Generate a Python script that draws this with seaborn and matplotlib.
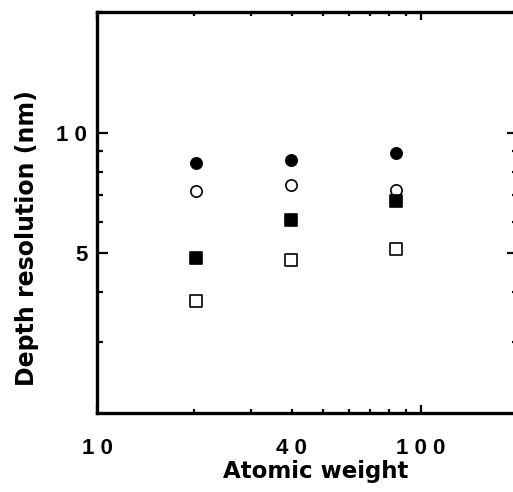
import matplotlib
matplotlib.use("Agg")
import matplotlib.pyplot as plt
import seaborn as sns

# data (log-log axes)
atomic_weight = [20.2, 39.9, 83.8]
filled_circle = [8.40, 8.53, 8.90]
open_circle = [7.14, 7.42, 7.21]
filled_square = [4.86, 6.05, 6.77]
open_square = [3.80, 4.81, 5.12]

x_ticks = [10, 40, 100]
x_ticklabels = ["1 0", "4 0", "1 0 0"]
y_ticks = [5, 10]
y_ticklabels = ["5", "1 0"]

sns.set_style("ticks")
plt.rcParams["font.family"] = ["Liberation Sans", "DejaVu Sans"]
plt.rcParams["text.color"] = "black"
plt.rcParams["axes.labelcolor"] = "black"

fig = plt.figure(figsize=(5.13, 4.92), dpi=100)
# right spine sits just past the image edge, as in the cropped scan
ax = fig.add_axes([97 / 513, 79 / 492, 421 / 513, 401 / 492])

series = [
    (filled_circle, "o", "black"),
    (open_circle, "o", "white"),
    (filled_square, "s", "black"),
    (open_square, "s", "white"),
]
for vals, mk, face in series:
    sns.scatterplot(x=atomic_weight, y=vals, marker=mk, s=66, color=face,
                    edgecolor="black", linewidth=1.2, ax=ax, zorder=3)

ax.set_xscale("log")
ax.set_yscale("log")
ax.set_xlim(10, 200)
ax.set_ylim(2, 20)

ax.set_xticks(x_ticks, labels=x_ticklabels)
ax.set_yticks(y_ticks, labels=y_ticklabels)
ax.set_xticks([20, 30, 50, 60, 70, 80, 90, 200], minor=True)
ax.set_yticks([3, 4, 6, 7, 8, 9, 20], minor=True)
ax.xaxis.set_minor_formatter(matplotlib.ticker.NullFormatter())
ax.yaxis.set_minor_formatter(matplotlib.ticker.NullFormatter())

ax.tick_params(which="both", direction="in", top=True, right=True,
               width=1.6, labelsize=16, colors="black")
ax.tick_params(axis="x", which="major", length=6, pad=18)
ax.tick_params(axis="x", which="minor", length=3)
ax.tick_params(axis="y", which="major", length=8, pad=7)
ax.tick_params(axis="y", which="minor", length=4)
for lab in ax.get_xticklabels() + ax.get_yticklabels():
    lab.set_fontweight("bold")
# the 40 tick is drawn short like the minor ones
t40 = ax.xaxis.get_major_ticks()[1]
t40.tick1line.set_markersize(3)
t40.tick2line.set_markersize(3)

for sp in ax.spines.values():
    sp.set_linewidth(2.4)
    sp.set_color("black")

label_font = dict(family=["DejaVu Sans"], weight="bold", color="black")
ax.set_xlabel("Atomic weight", fontsize=16.5, **label_font)
ax.set_ylabel("Depth resolution (nm)", fontsize=17, **label_font)
ax.xaxis.set_label_coords(0.52, -0.118)
ax.yaxis.set_label_coords(-0.138, 0.436)

fig.savefig("out.png", dpi=100)
